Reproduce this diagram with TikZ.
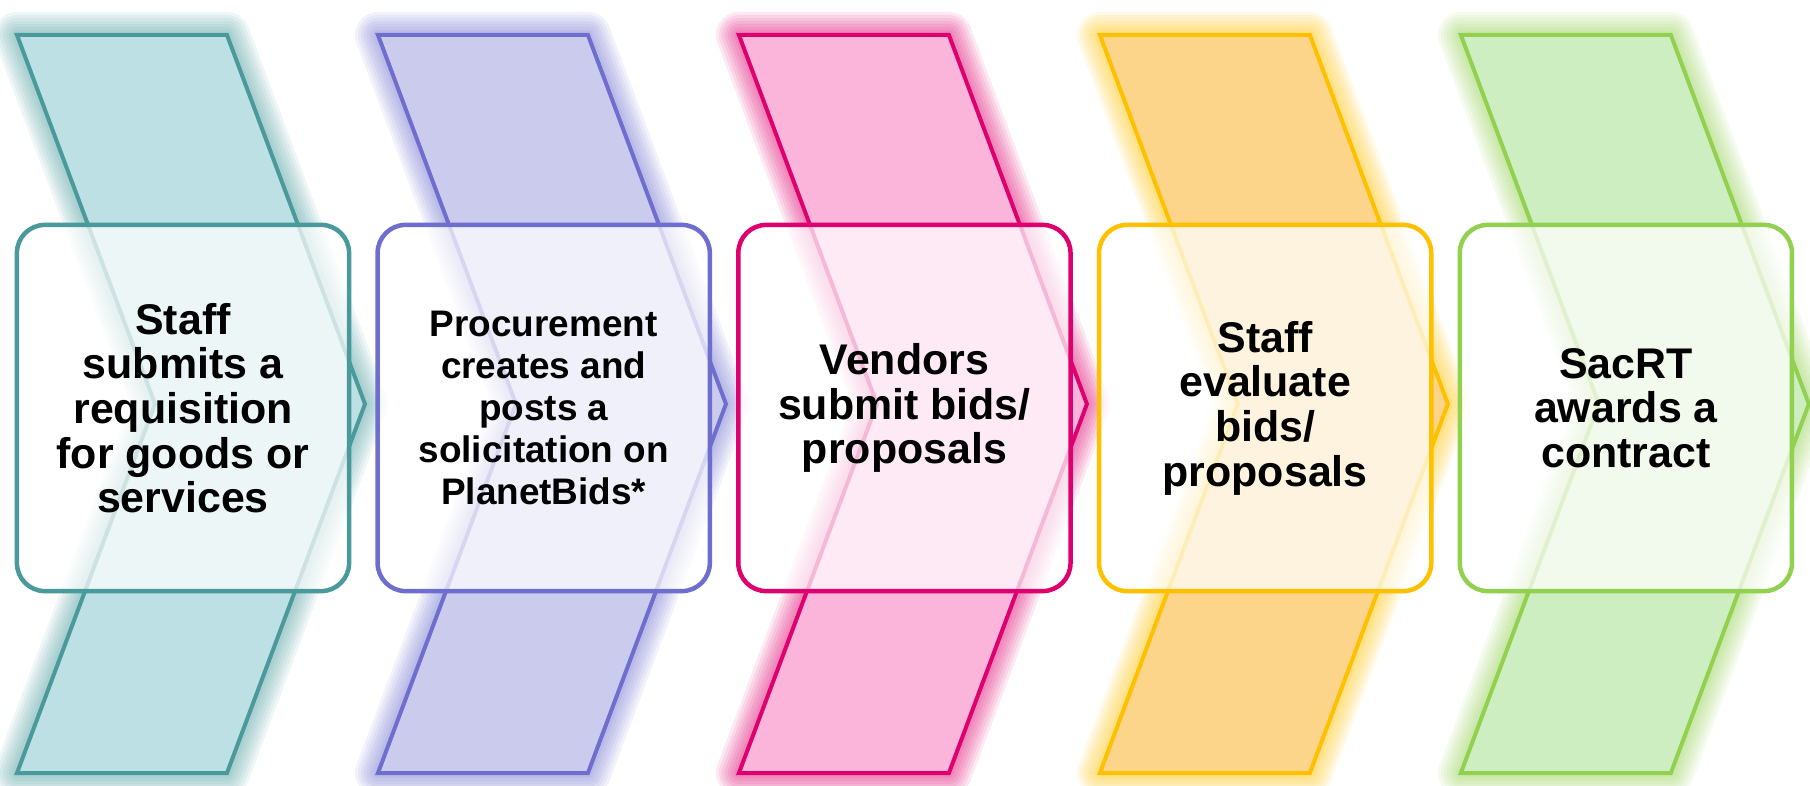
\documentclass[tikz,border=0pt]{standalone}
\usepackage{fontspec}
\setmainfont{Liberation Sans}
\usetikzlibrary{positioning}

\definecolor{tealLine}{HTML}{4A9A9C}
\definecolor{tealFill}{HTML}{BCE0E3}
\definecolor{violetLine}{HTML}{6E6ECE}
\definecolor{violetFill}{HTML}{CBCBEE}
\definecolor{pinkLine}{HTML}{DE006E}
\definecolor{pinkFill}{HTML}{FBB4DA}
\definecolor{goldLine}{HTML}{FFC000}
\definecolor{goldFill}{HTML}{FDD58A}
\definecolor{greenLine}{HTML}{92D050}
\definecolor{greenFill}{HTML}{CDEEC0}

\begin{document}
\begin{tikzpicture}[x=0.01cm,y=-0.01cm,
    stepbox/.style={draw, line width=0.045cm, rounded corners=0.28cm,
      fill=white, fill opacity=0.72, text opacity=1, text=black,
      minimum width=3.32cm, minimum height=3.66cm, align=center,
      font=\bfseries\fontsize{12.2}{12.7}\selectfont}]
    \useasboundingbox (0,0) rectangle (1810,785);

    % chevrons behind the boxes
    \foreach \i/\ln/\fl in {0/tealLine/tealFill, 1/violetLine/violetFill, 2/pinkLine/pinkFill, 3/goldLine/goldFill, 4/greenLine/greenFill}{
      \begin{scope}[xshift=\i*3.6075cm]
        \foreach \w in {46,40,34,28,22,16,10}
          \draw[\ln, opacity=0.085, line width=\w*0.01cm, line join=round]
            (17,35) -- (227,35) -- (365,404) -- (227,773) -- (17,773) -- (155,404) -- cycle;
        \draw[\ln, fill=\fl, line width=0.04cm]
          (17,35) -- (227,35) -- (365,404) -- (227,773) -- (17,773) -- (155,404) -- cycle;
      \end{scope}
    }

    \node[stepbox, draw=tealLine] (Staff) at (183,408) {Staff\\submits a\\requisition\\for goods or\\services};
    \node[stepbox, draw=violetLine, right=0.24cm of Staff, font=\bfseries\fontsize{10.5}{11.9}\selectfont] (Procure) {Procurement\\creates and\\posts a\\solicitation on\\PlanetBids*};
    \node[stepbox, draw=pinkLine, right=0.24cm of Procure] (Vendors) {Vendors\\submit bids/\\proposals};
    \node[stepbox, draw=goldLine, right=0.24cm of Vendors] (Evaluate) {Staff\\evaluate\\bids/\\proposals};
    \node[stepbox, draw=greenLine, right=0.24cm of Evaluate] (Award) {SacRT\\awards a\\contract};
\end{tikzpicture}
\end{document}
